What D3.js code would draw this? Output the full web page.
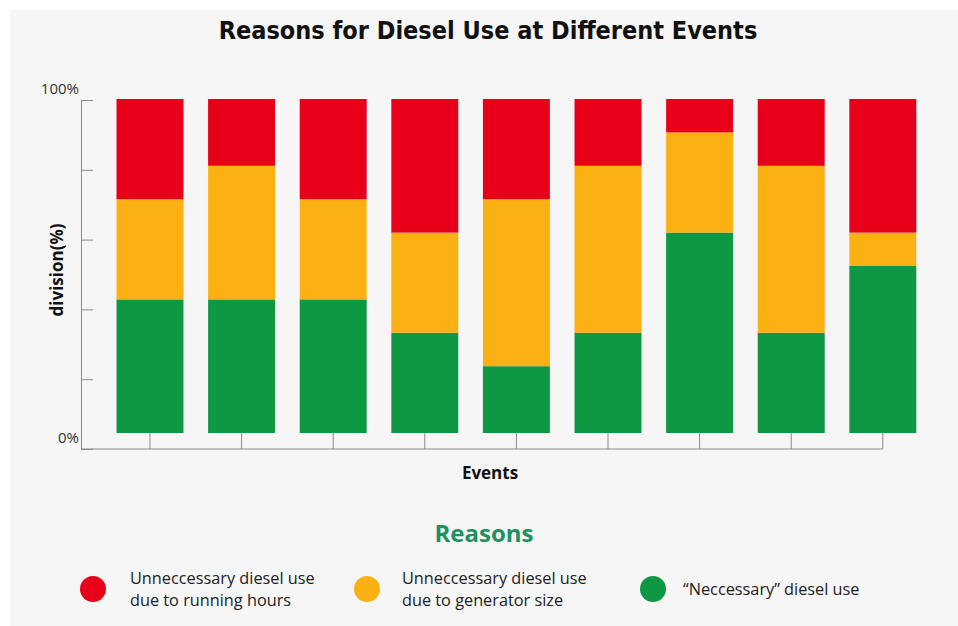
<!DOCTYPE html>
<html>
<head>
<meta charset="utf-8">
<script src="https://cdn.jsdelivr.net/npm/d3@7"></script>
<style>
  html, body { margin: 0; padding: 0; background: #ffffff; }
  svg { display: block; }
</style>
</head>
<body>
<svg id="chart" width="958" height="626"></svg>
<script>
// Share of diesel use per event, by reason (percent, stacked to 100)
const events = ["E1", "E2", "E3", "E4", "E5", "E6", "E7", "E8", "E9"];
const necessary   = [40, 40, 40, 30, 20, 30, 60, 30, 50];
const genSize     = [30, 40, 30, 30, 50, 50, 30, 50, 10];
const runHours    = [30, 20, 30, 40, 30, 20, 10, 20, 40];

const seriesKeys   = ["necessary", "genSize", "runHours"];
const seriesColors = ["#0e9844", "#fbb014", "#e8001b"];
const legendLabels = [
  ["Unneccessary diesel use", "due to running hours"],
  ["Unneccessary diesel use", "due to generator size"],
  ["\u201CNeccessary\u201D diesel use"]
];
const legendColors = ["#e8001b", "#fbb014", "#0e9844"];
const yTickLabels = [[100, "100%"], [0, "0%"]];

const rows = events.map((e, i) => ({
  event: e,
  necessary: necessary[i],
  genSize: genSize[i],
  runHours: runHours[i]
}));

const svg = d3.select("#chart");
const W = 958, H = 626;

// page panel
svg.append("rect").attr("x", 10).attr("y", 10)
  .attr("width", W - 10).attr("height", H - 10).attr("fill", "#f6f6f6");

// scales
const x = d3.scaleBand().domain(events).range([116.5, 916.3])
  .paddingInner(0.269).paddingOuter(0);
const yBar = d3.scaleLinear().domain([0, 100]).range([433, 99]);
const yAxisScale = d3.scaleLinear().domain([0, 100]).range([449, 100]);
const axisX = 81;

const stack = d3.stack().keys(seriesKeys);
const stacked = stack(rows);

// bars
svg.append("g").selectAll("g")
  .data(stacked)
  .join("g")
  .attr("fill", (d, i) => seriesColors[i])
  .selectAll("rect")
  .data(d => d)
  .join("rect")
  .attr("x", d => x(d.data.event))
  .attr("width", x.bandwidth())
  .attr("y", d => yBar(d[1]))
  .attr("height", d => yBar(d[0]) - yBar(d[1]));

// y axis: ticks point into the plot
const yAxis = svg.append("g")
  .attr("transform", `translate(${axisX},0)`)
  .call(d3.axisRight(yAxisScale).tickValues([0, 20, 40, 60, 80, 100])
    .tickSize(12).tickSizeOuter(0).tickFormat(""));
yAxis.select(".domain").attr("stroke", "#8a8a8a");
yAxis.selectAll(".tick line").attr("stroke", "#8a8a8a");

svg.append("g").selectAll("text")
  .data(yTickLabels)
  .join("text")
  .attr("x", axisX - 2)
  .attr("y", d => yAxisScale(d[0]) - 6)
  .attr("text-anchor", "end")
  .attr("font-family", "'Open Sans', 'Noto Sans', sans-serif")
  .attr("font-size", 15)
  .attr("fill", "#333")
  .text(d => d[1]);

// x axis: ticks rise from the baseline to each bar
const xAxis = svg.append("g")
  .attr("transform", `translate(0,${yAxisScale(0)})`)
  .call(d3.axisTop(x).tickSize(16).tickSizeOuter(0).tickFormat(""));
xAxis.select(".domain").remove();
xAxis.selectAll(".tick line").attr("stroke", "#8a8a8a");
svg.append("line")
  .attr("x1", axisX).attr("x2", x(events[events.length - 1]) + x.bandwidth() / 2)
  .attr("y1", yAxisScale(0)).attr("y2", yAxisScale(0))
  .attr("stroke", "#8a8a8a");

// titles
svg.append("text")
  .attr("x", 488).attr("y", 39)
  .attr("text-anchor", "middle")
  .attr("font-family", "'Liberation Sans Narrow', 'DejaVu Sans Condensed', 'Open Sans', sans-serif")
  .attr("font-weight", "bold")
  .attr("font-size", 25)
  .attr("fill", "#111")
  .text("Reasons for Diesel Use at Different Events");

svg.append("text")
  .attr("transform", "translate(63,270) rotate(-90)")
  .attr("text-anchor", "middle")
  .attr("font-family", "'Open Sans', 'Noto Sans', sans-serif")
  .attr("font-weight", "bold")
  .attr("font-size", 17)
  .attr("fill", "#111")
  .text("division(%)");

svg.append("text")
  .attr("x", 490).attr("y", 479)
  .attr("text-anchor", "middle")
  .attr("font-family", "'Open Sans', 'Noto Sans', sans-serif")
  .attr("font-weight", "bold")
  .attr("font-size", 17)
  .attr("fill", "#111")
  .text("Events");

svg.append("text")
  .attr("x", 484).attr("y", 542)
  .attr("text-anchor", "middle")
  .attr("font-family", "'Open Sans', 'Noto Sans', sans-serif")
  .attr("font-weight", "bold")
  .attr("font-size", 24)
  .attr("fill", "#1e9160")
  .text("Reasons");

// legend
const legendPos = [[93, 130], [367, 402], [653, 683]];
const lg = svg.append("g").selectAll("g")
  .data(legendLabels)
  .join("g");
lg.append("circle")
  .attr("cx", (d, i) => legendPos[i][0])
  .attr("cy", 589)
  .attr("r", 13)
  .attr("fill", (d, i) => legendColors[i]);
lg.each(function (lines, i) {
  const t = d3.select(this).append("text")
    .attr("font-family", "'Open Sans', 'Noto Sans', sans-serif")
    .attr("font-size", 16.3)
    .attr("fill", "#222");
  const top = lines.length === 1 ? 595 : 584;
  lines.forEach((ln, j) => {
    t.append("tspan").attr("x", legendPos[i][1]).attr("y", top + j * 22).text(ln);
  });
});
</script>
</body>
</html>
